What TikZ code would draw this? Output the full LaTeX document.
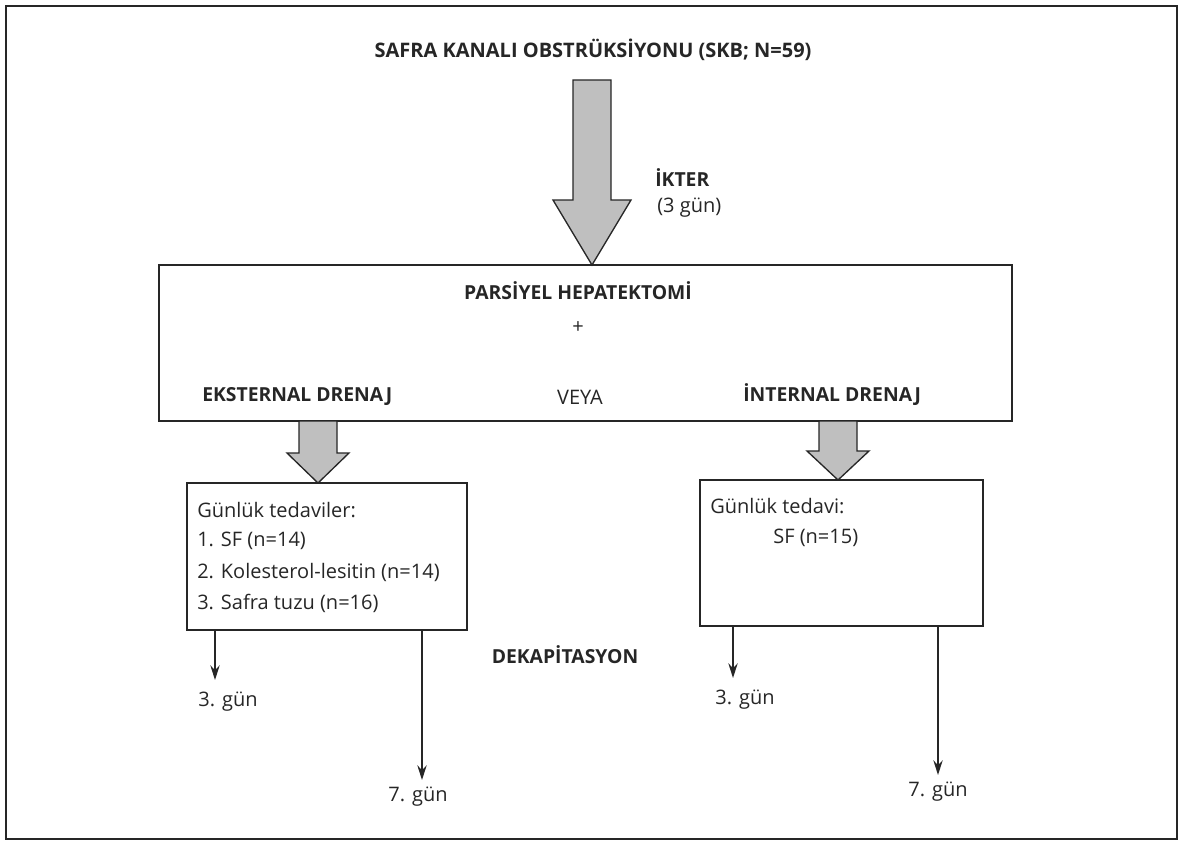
\documentclass[tikz,border=0pt]{standalone}
\usepackage{fontspec}
\setmainfont{Open Sans}
\usetikzlibrary{arrows.meta}
\begin{document}
\begin{tikzpicture}[x=0.75pt,y=-0.75pt,
  outline/.style={draw=black!85, line width=1.1pt},
  boxstyle/.style={draw=black!85, line width=1.1pt, inner sep=0pt},
  fatarrow/.style={draw=black!85, line width=1pt, fill=black!25},
  thinarrow/.style={draw=black!85, line width=1.1pt, -{Stealth[length=11pt,width=7pt]}},
  lbl/.style={font=\fontsize{15}{18}\selectfont, text=black!85, inner sep=0pt},
  blbl/.style={font=\bfseries\fontsize{14.5}{17}\selectfont, text=black!85, inner sep=0pt}]
\useasboundingbox (0,0) rectangle (1180,845);
\draw[outline] (6,6) rectangle (1177,839);

% title and big arrow
\node[blbl, font=\bfseries\fontsize{15}{18}\selectfont] (title) at (593,50) {SAFRA KANALI OBSTRÜKSİYONU (SKB; N=59)};
\draw[fatarrow] (573,80) -- (611,80) -- (611,200) -- (631,200) -- (592,265) -- (553,200) -- (573,200) -- cycle;
\node[blbl, anchor=west] (ikter) at (655,178) {İKTER};
\node[lbl, anchor=west] (gun3) at (657,208) {(3 gün)};

% main box
\node[boxstyle, minimum width=639.75pt, minimum height=117pt] (main) at (585.5,343) {};
\node[blbl] (parsiyel) at (578,291) {PARSİYEL HEPATEKTOMİ};
\node[lbl] (plus) at (578,328) {+};
\node[blbl, anchor=west] (eks) at (202,397) {EKSTERNAL DRENAJ};
\node[lbl] (veya) at (580,397) {VEYA};
\node[blbl, anchor=west] (int) at (743,395) {İNTERNAL DRENAJ};

% small fat arrows
\draw[fatarrow] (299,421) -- (337,421) -- (337,453) -- (349,453) -- (318,483) -- (287,453) -- (299,453) -- cycle;
\draw[fatarrow] (819,421) -- (857,421) -- (857,451) -- (869,451) -- (838,480) -- (807,451) -- (819,451) -- cycle;

% left box
\node[boxstyle, minimum width=210pt, minimum height=110.25pt] (lbox) at (327,556.5) {};
\node[lbl, anchor=west] (l1) at (197,510) {Günlük tedaviler:};
\node[lbl, anchor=west] (l2) at (197,541) {1. SF (n=14)};
\node[lbl, anchor=west] (l3) at (197,572) {2. Kolesterol-lesitin (n=14)};
\node[lbl, anchor=west] (l4) at (197,603) {3. Safra tuzu (n=16)};

% right box
\node[boxstyle, minimum width=212.25pt, minimum height=109.5pt] (rbox) at (841.5,553) {};
\node[lbl, anchor=west] (r1) at (710,506) {Günlük tedavi:};
\node[lbl, anchor=west] (r2) at (773,538) {SF (n=15)};

\node[blbl] (dek) at (565,655) {DEKAPİTASYON};

% thin arrows
\coordinate (e1) at (215,680);
\coordinate (e2) at (422,780);
\coordinate (e3) at (733,678);
\coordinate (e4) at (938,775);
\draw[thinarrow] (lbox.south -| e1) -- (e1);
\draw[thinarrow] (lbox.south -| e2) -- (e2);
\draw[thinarrow] (rbox.south -| e3) -- (e3);
\draw[thinarrow] (rbox.south -| e4) -- (e4);
\node[lbl] (t1) at (228,702) {3. gün};
\node[lbl] (t2) at (418,797) {7. gün};
\node[lbl] (t3) at (745,700) {3. gün};
\node[lbl] (t4) at (938,792) {7. gün};
\end{tikzpicture}
\end{document}
